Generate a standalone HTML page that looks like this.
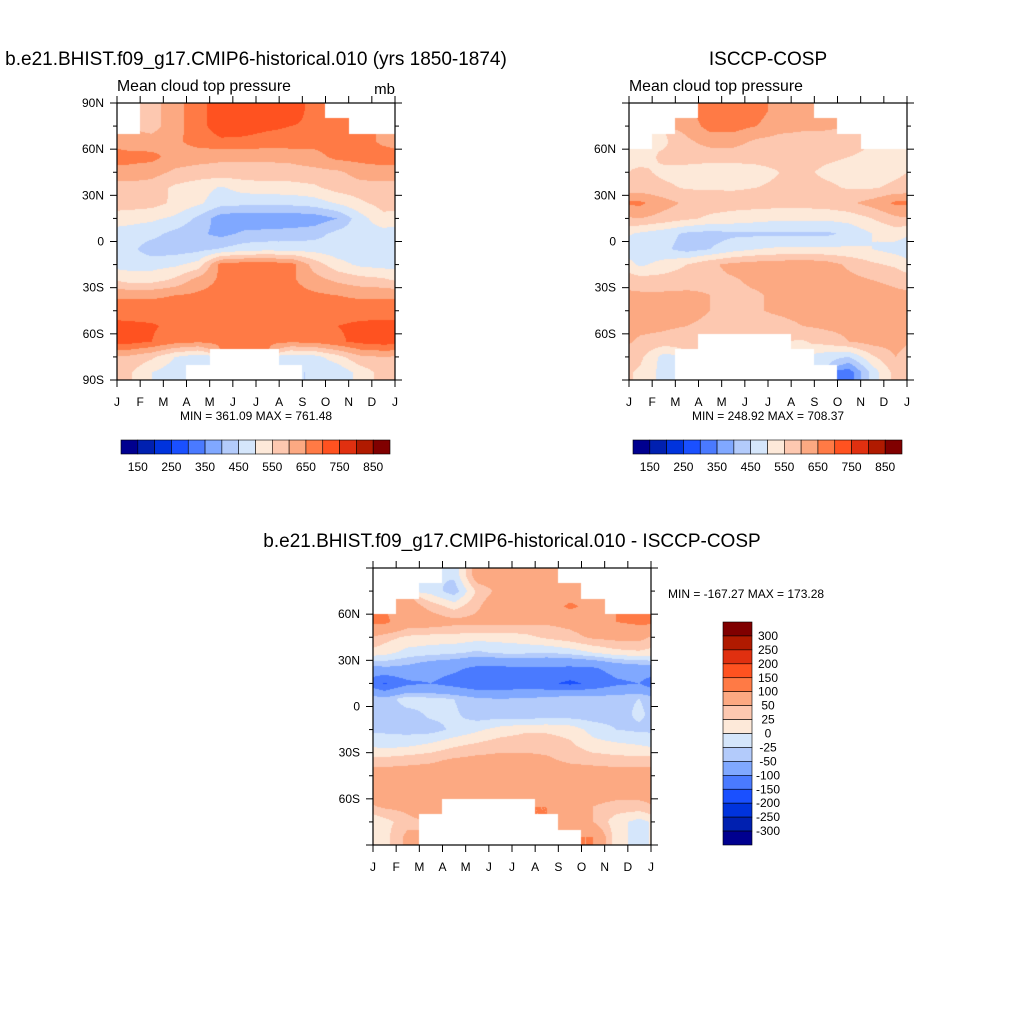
<!DOCTYPE html>
<html><head><meta charset="utf-8">
<style>
body{margin:0;background:#fff;}
#root{position:relative;width:1024px;height:1024px;overflow:hidden;background:#fff;font-family:"Liberation Sans",sans-serif;}
canvas{position:absolute;}
svg{position:absolute;left:0;top:0;}
</style></head>
<body>
<div id="root">
<canvas id="c1" width="278" height="277" style="left:117px;top:103px"></canvas>
<canvas id="c2" width="278" height="277" style="left:629px;top:103px"></canvas>
<canvas id="c3" width="278" height="277" style="left:373px;top:568px"></canvas>
<svg id="ov" width="1024" height="1024">
<text x="256" y="65" font-size="19" text-anchor="middle">b.e21.BHIST.f09_g17.CMIP6-historical.010 (yrs 1850-1874)</text>
<text x="117" y="91" font-size="15.8">Mean cloud top pressure</text>
<text x="395" y="94" font-size="15" text-anchor="end">mb</text>
<text x="256" y="420" font-size="12" text-anchor="middle">MIN = 361.09 MAX = 761.48</text>
<text x="768" y="65" font-size="19" text-anchor="middle">ISCCP-COSP</text>
<text x="629" y="91" font-size="15.8">Mean cloud top pressure</text>
<text x="768" y="420" font-size="12" text-anchor="middle">MIN = 248.92 MAX = 708.37</text>
<text x="512" y="547" font-size="19" text-anchor="middle">b.e21.BHIST.f09_g17.CMIP6-historical.010 - ISCCP-COSP</text>
<text x="668" y="598" font-size="12">MIN = -167.27 MAX = 173.28</text>
</svg>
</div>
<script>
const COLORS=['#00008f','#0020b0','#0033dd','#1a50ff','#4a7aff','#80a8ff','#b3cbfb','#d5e6fb','#fde9d9','#fdc8b0','#fca982','#ff7a45','#ff5220','#e03010','#b01a00','#800000'];
const monthLabels=['J','F','M','A','M','J','J','A','S','O','N','D','J'];
const absLevels=[150,200,250,300,350,400,450,500,550,600,650,700,750,800,850];
const absLevelLabels=['150','250','350','450','550','650','750','850'];
const diffLevels=[-300,-250,-200,-150,-100,-50,-25,0,25,50,100,150,200,250,300];
const diffLevelLabels=['300','250','200','150','100','50','25','0','-25','-50','-100','-150','-200','-250','-300'];
const rowLats=[85,75,65,55,45,35,25,15,5,-5,-15,-25,-35,-45,-55,-65,-75,-85];
const N=null;
// model cloud top pressure (mb), rows 85N..85S, columns Jan..Dec
const modelValues=[
[N,580,630,680,730,730,730,730,680,N,N,N],
[N,580,630,680,730,720,710,700,690,670,N,N],
[620,620,640,670,690,690,680,680,670,670,670,640],
[670,665,630,620,610,610,610,615,630,665,670,675],
[630,620,590,580,580,580,580,580,585,590,620,630],
[580,575,540,520,495,520,530,530,540,570,580,580],
[575,570,540,510,470,465,460,465,475,505,540,570],
[520,510,490,440,370,365,365,365,370,400,480,535],
[475,465,435,410,385,410,415,420,430,465,478,478],
[465,425,425,435,455,478,485,480,480,470,462,462],
[480,480,490,520,670,680,680,670,580,520,490,480],
[530,530,560,620,660,670,670,660,620,590,570,560],
[640,640,650,660,670,670,670,670,660,650,640,640],
[680,680,680,680,680,680,680,680,680,680,680,680],
[710,705,690,680,680,680,680,680,690,700,710,715],
[720,700,670,660,660,660,660,660,665,690,715,725],
[590,560,500,470,N,N,N,470,480,530,590,600],
[560,500,470,N,N,N,N,N,450,460,520,570]];
// ISCCP cloud top pressure (mb)
const obsValues=[
[N,N,N,670,700,670,630,620,N,N,N,N],
[N,N,620,670,670,650,620,610,610,N,N,N],
[N,540,590,620,620,590,580,580,575,570,N,N],
[530,560,570,570,570,570,570,570,560,550,540,550],
[560,540,530,520,520,530,550,560,540,530,530,540],
[570,560,545,545,545,550,560,570,560,545,545,560],
[660,620,590,575,570,570,570,570,575,590,620,660],
[600,580,560,540,530,520,510,510,510,520,550,590],
[490,470,440,430,440,440,440,440,440,460,500,520],
[470,460,430,450,480,500,510,510,510,510,500,480],
[490,520,550,590,615,625,630,640,625,590,560,540],
[570,570,580,590,595,610,620,625,620,615,600,590],
[610,610,610,600,590,595,610,620,620,620,620,610],
[620,620,615,600,590,595,610,620,620,620,620,620],
[615,610,600,590,580,575,580,600,610,615,620,620],
[590,580,560,N,N,N,N,545,570,600,620,620],
[560,480,N,N,N,N,N,N,470,450,540,600],
[540,480,N,N,N,N,N,N,N,320,470,570]];
// model minus ISCCP (mb)
const diffValues=[
[N,N,N,-20,70,70,90,70,N,N,N,N],
[N,N,-10,-40,30,60,70,70,70,N,N,N],
[N,70,40,15,45,80,70,70,110,80,N,N],
[110,70,70,60,60,60,60,55,60,70,100,110],
[35,20,15,15,10,10,15,30,40,55,60,60],
[10,-10,-15,-20,-30,-20,-20,-25,-15,0,15,20],
[-55,-60,-80,-90,-110,-110,-105,-105,-110,-105,-80,-70],
[-155,-110,-100,-120,-140,-140,-130,-140,-160,-140,-110,-100],
[-40,-10,-20,-25,-45,-50,-45,-40,-25,-30,-30,-25],
[-40,-35,-20,-20,-40,-40,-45,-40,-40,-40,-35,-20],
[-30,-35,-35,-20,-5,10,20,20,15,-10,-25,-30],
[-10,-5,5,20,30,40,40,40,30,10,5,0],
[35,40,45,55,60,60,60,55,45,40,35,35],
[70,70,70,70,70,70,70,70,70,70,70,70],
[65,65,65,65,60,60,65,65,65,65,65,65],
[55,60,90,N,N,N,N,100,70,50,40,40],
[15,40,N,N,N,N,N,N,70,50,10,-10],
[15,60,N,N,N,N,N,N,N,100,10,-10]];

function levelIndex(v,levels){let i=0;while(i<levels.length&&v>=levels[i])i++;return i;}
function hex(c){return [parseInt(c.slice(1,3),16),parseInt(c.slice(3,5),16),parseInt(c.slice(5,7),16)];}
const RGB=COLORS.map(hex);
function drawField(id,grid,levels){
  const cv=document.getElementById(id),ctx=cv.getContext('2d');
  const W=cv.width,H=cv.height,img=ctx.createImageData(W,H);
  const nr=grid.length;
  for(let py=0;py<H;py++){
    const lat=90-(py+0.5)/H*180;
    const ri=Math.min(nr-1,Math.floor((90-lat)/10));
    let v=(90-lat)/10-0.5;v=Math.max(0,Math.min(nr-1,v));
    const r0=Math.floor(v),r1=Math.min(nr-1,r0+1),fy=v-r0;
    for(let px=0;px<W;px++){
      const k=(py*W+px)*4;
      const ci=Math.min(11,Math.floor((px+0.5)/W*12));
      if(grid[ri][ci]===null){img.data[k]=255;img.data[k+1]=255;img.data[k+2]=255;img.data[k+3]=255;continue;}
      const u=(px+0.5)/W*12-0.5;const c0f=Math.floor(u),fx=u-c0f;
      const c0=(c0f+12)%12,c1=(c0f+13)%12;
      const pts=[[grid[r0][c0],(1-fx)*(1-fy)],[grid[r0][c1],fx*(1-fy)],[grid[r1][c0],(1-fx)*fy],[grid[r1][c1],fx*fy]];
      let s=0,w=0;for(const [val,wt] of pts){if(val!==null){s+=val*wt;w+=wt;}}
      const val=w>0?s/w:grid[ri][ci];
      const col=RGB[levelIndex(val,levels)];
      img.data[k]=col[0];img.data[k+1]=col[1];img.data[k+2]=col[2];img.data[k+3]=255;
    }
  }
  ctx.putImageData(img,0,0);
}
drawField('c1',modelValues,absLevels);
drawField('c2',obsValues,absLevels);
drawField('c3',diffValues,diffLevels);

const svg=document.getElementById('ov');const NS='http://www.w3.org/2000/svg';
function mk(tag,attrs){const e=document.createElementNS(NS,tag);for(const k in attrs)e.setAttribute(k,attrs[k]);svg.appendChild(e);return e;}
function axes(x0,y0,w,h,latLabels,prefix){
  const fr=mk('rect',{x:x0,y:y0,width:w,height:h,fill:'none',stroke:'#000','stroke-width':1.2});
  
  
  for(let i=0;i<=12;i++){
    const x=x0+i*w/12;
    mk('line',{x1:x,y1:y0+h,x2:x,y2:y0+h+7,stroke:'#000'});
    mk('line',{x1:x,y1:y0,x2:x,y2:y0-7,stroke:'#000'});
    const t=mk('text',{x:x,y:y0+h+26,'font-size':12,'text-anchor':'middle'});t.textContent=monthLabels[i];
    
    
  }
  for(let lat=90;lat>=-90;lat-=15){
    const y=y0+(90-lat)/180*h;const major=lat%30===0;const L=major?7:4;
    mk('line',{x1:x0,y1:y,x2:x0-L,y2:y,stroke:'#000'});
    mk('line',{x1:x0+w,y1:y,x2:x0+w+L,y2:y,stroke:'#000'});
  }
  for(const lab of latLabels){
    const lat=lab==='0'?0:parseInt(lab)*(lab.endsWith('S')?-1:1);
    const y=y0+(90-lat)/180*h;
    const t=mk('text',{x:x0-13,y:y+4,'font-size':12,'text-anchor':'end'});t.textContent=lab;
    
    
  }
}
axes(117,103,278,277,['90N','60N','30N','0','30S','60S','90S'],'model');
axes(629,103,278,277,['60N','30N','0','30S','60S'],'obs');
axes(373,568,278,277,['60N','30N','0','30S','60S'],'diff');
function hbar(x0,y0,w,h,prefix){
  const bw=w/16;
  for(let i=0;i<16;i++){
    const r=mk('rect',{x:x0+i*bw,y:y0,width:bw,height:h,fill:COLORS[i],stroke:'#000','stroke-width':0.6});
    
    
  }
  absLevelLabels.forEach((lab,j)=>{
    const t=mk('text',{x:x0+(2*j+1)*bw,y:y0+h+17,'font-size':12,'text-anchor':'middle'});t.textContent=lab;
    
    
  });
}
hbar(121,440,269,14,'model');
hbar(633,440,269,14,'obs');
(function(){
  const x0=723,y0=622,w=29,h=223,bh=h/16;
  for(let i=0;i<16;i++){
    const r=mk('rect',{x:x0,y:y0+i*bh,width:w,height:bh,fill:COLORS[15-i],stroke:'#000','stroke-width':0.6});
    
    
  }
  diffLevelLabels.forEach((lab,j)=>{
    const t=mk('text',{x:768,y:y0+(j+1)*bh+4,'font-size':12,'text-anchor':'middle'});t.textContent=lab;
    
    
  });
})();
</script>
</body></html>
